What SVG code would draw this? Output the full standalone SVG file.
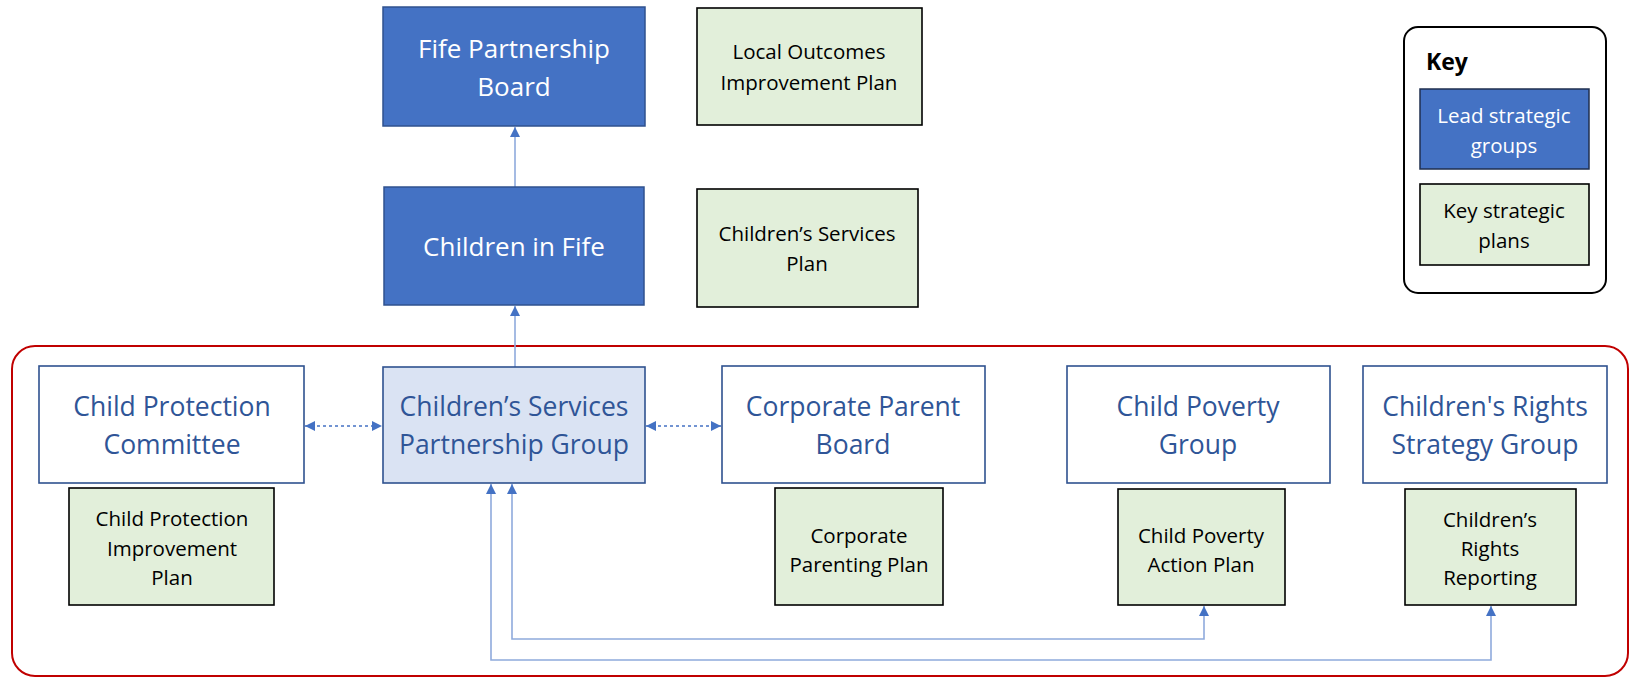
<svg xmlns="http://www.w3.org/2000/svg" width="1631" height="679" viewBox="0 0 1631 679">
<defs>
<style>
.lead{fill:#4472C4;stroke:#2F528F;stroke-width:1.5}
.plan{fill:#E2EFDA;stroke:#000;stroke-width:1.6}
.grp{fill:#FFFFFF;stroke:#2F528F;stroke-width:1.6}
.grpa{fill:#DAE3F3;stroke:#2F528F;stroke-width:1.6}
text{font-family:"Open Sans","Noto Sans","Liberation Sans",sans-serif;text-anchor:middle}
.tl{fill:#FFFFFF;font-size:26px}
.tg{fill:#2F5597;font-size:26.5px}
.tp{fill:#000;font-size:20.5px}
.tk{fill:#FFFFFF;font-size:20.5px}
.conn{fill:none;stroke:#8FAADC;stroke-width:1.6}
.dash{fill:none;stroke:#4472C4;stroke-width:1.3;stroke-dasharray:3 3}
</style>
<marker id="ah" viewBox="0 0 10 10" refX="10" refY="5" markerWidth="10" markerHeight="10" markerUnits="userSpaceOnUse" orient="auto-start-reverse">
<path d="M0,0 L10,5 L0,10 z" fill="#4472C4"/>
</marker>
</defs>

<g id="scope">
<rect x="12" y="346" width="1616" height="330" rx="23" fill="none" stroke="#C00000" stroke-width="2"/>
</g>

<g id="connectors">
<line class="conn" x1="515" y1="187" x2="515" y2="127" marker-end="url(#ah)"/>
<line class="conn" x1="515" y1="367" x2="515" y2="306" marker-end="url(#ah)"/>
<line class="dash" x1="305" y1="426" x2="382" y2="426" marker-start="url(#ah)" marker-end="url(#ah)"/>
<line class="dash" x1="646" y1="426" x2="721" y2="426" marker-start="url(#ah)" marker-end="url(#ah)"/>
<polyline class="conn" points="1204,606 1204,639 512,639 512,484" marker-start="url(#ah)" marker-end="url(#ah)"/>
<polyline class="conn" points="1491,606 1491,660 491,660 491,484" marker-start="url(#ah)" marker-end="url(#ah)"/>
</g>

<g id="fife-partnership-board">
<rect class="lead" x="383" y="7" width="262" height="119"/>
<text class="tl" x="514" y="58">Fife Partnership</text>
<text class="tl" x="514" y="96">Board</text>
</g>

<g id="local-outcomes">
<rect class="plan" x="697" y="8" width="225" height="117"/>
<text class="tp" x="809" y="59">Local Outcomes</text>
<text class="tp" x="809" y="90">Improvement Plan</text>
</g>

<g id="children-in-fife">
<rect class="lead" x="384" y="187" width="260" height="118"/>
<text class="tl" x="514" y="256">Children in Fife</text>
</g>

<g id="childrens-services-plan">
<rect class="plan" x="697" y="189" width="221" height="118"/>
<text class="tp" x="807" y="241">Children’s Services</text>
<text class="tp" x="807" y="271">Plan</text>
</g>

<g id="key">
<rect x="1404" y="27" width="202" height="266" rx="14" fill="#FFFFFF" stroke="#000" stroke-width="2"/>
<text x="1426" y="70" style="text-anchor:start;font-weight:bold;font-size:23px;fill:#000">Key</text>
<rect class="lead" x="1420" y="89" width="169" height="80" style="stroke:#1F2F4F"/>
<text class="tk" x="1504" y="123">Lead strategic</text>
<text class="tk" x="1504" y="153">groups</text>
<rect class="plan" x="1420" y="184" width="169" height="81"/>
<text class="tp" x="1504" y="218">Key strategic</text>
<text class="tp" x="1504" y="248">plans</text>
</g>

<g id="child-protection-committee">
<rect class="grp" x="39" y="366" width="265" height="117"/>
<text class="tg" x="172" y="416">Child Protection</text>
<text class="tg" x="172" y="454">Committee</text>
</g>

<g id="cspg">
<rect class="grpa" x="383" y="367" width="262" height="116"/>
<text class="tg" x="514" y="416">Children’s Services</text>
<text class="tg" x="514" y="454">Partnership Group</text>
</g>

<g id="corporate-parent-board">
<rect class="grp" x="722" y="366" width="263" height="117"/>
<text class="tg" x="853" y="416">Corporate Parent</text>
<text class="tg" x="853" y="454">Board</text>
</g>

<g id="child-poverty-group">
<rect class="grp" x="1067" y="366" width="263" height="117"/>
<text class="tg" x="1198" y="416">Child Poverty</text>
<text class="tg" x="1198" y="454">Group</text>
</g>

<g id="childrens-rights-group">
<rect class="grp" x="1363" y="366" width="244" height="117"/>
<text class="tg" x="1485" y="416">Children's Rights</text>
<text class="tg" x="1485" y="454">Strategy Group</text>
</g>

<g id="cp-improvement-plan">
<rect class="plan" x="69" y="488" width="205" height="117"/>
<text class="tp" x="172" y="526">Child Protection</text>
<text class="tp" x="172" y="556">Improvement</text>
<text class="tp" x="172" y="585">Plan</text>
</g>

<g id="corporate-parenting-plan">
<rect class="plan" x="775" y="488" width="168" height="117"/>
<text class="tp" x="859" y="543">Corporate</text>
<text class="tp" x="859" y="572">Parenting Plan</text>
</g>

<g id="child-poverty-action-plan">
<rect class="plan" x="1118" y="489" width="167" height="116"/>
<text class="tp" x="1201" y="543">Child Poverty</text>
<text class="tp" x="1201" y="572">Action Plan</text>
</g>

<g id="childrens-rights-reporting">
<rect class="plan" x="1405" y="489" width="171" height="116"/>
<text class="tp" x="1490" y="527">Children’s</text>
<text class="tp" x="1490" y="556">Rights</text>
<text class="tp" x="1490" y="585">Reporting</text>
</g>
</svg>
